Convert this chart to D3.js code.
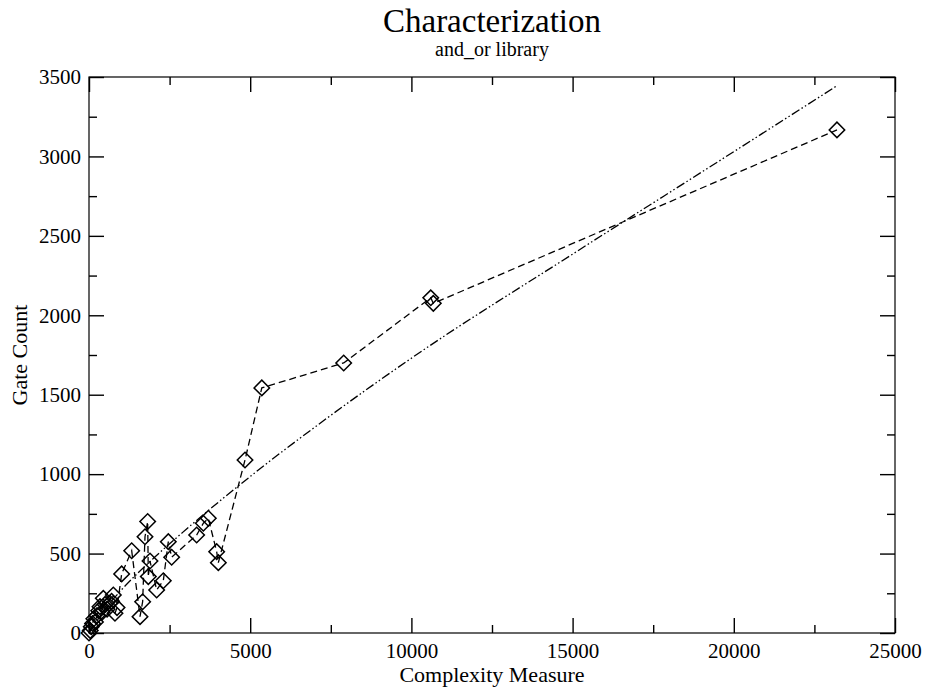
<!DOCTYPE html>
<html>
<head>
<meta charset="utf-8">
<script src="https://cdn.jsdelivr.net/npm/d3@7"></script>
<style>
  body { margin: 0; background: #fff; }
  svg { display: block; }
  svg text { font-family: "Liberation Serif", "Times New Roman", Times, "DejaVu Serif", serif; fill: #000; }
  .axis line { stroke: #000; }
  .axis text { font-size: 21px; }
</style>
</head>
<body>
<svg id="chart" width="927" height="687"></svg>
<script>
"use strict";

// ===== Data =====
const complexity = [0, 40, 70, 110, 150, 200, 250, 300, 341, 400, 444, 500, 560, 651, 700, 754, 806, 870,
  1013, 1324, 1582, 1664, 1737, 1820, 1840, 1892, 2099, 2305, 2460, 2564,
  3339, 3546, 3701, 3960, 4012, 4839, 5360, 7900, 10600, 10680, 23200];
const gateCount = [0, 15, 40, 60, 90, 70, 110, 140, 166, 130, 218, 180, 150, 187, 200, 239, 124, 160,
  372, 518, 103, 197, 606, 702, 355, 453, 271, 329, 575, 477,
  617, 691, 722, 512, 443, 1089, 1543, 1700, 2110, 2075, 3167];

// trend curve, points
const fitX = [0, 500, 1000, 2000, 3000, 5000, 7500, 10000, 15000, 20000, 23200];
const fitY = [0, 150, 270, 470, 650, 985, 1370, 1730, 2385, 3030, 3445];

const xTicks = [0, 5000, 10000, 15000, 20000, 25000];
const xMinor = [2500, 7500, 12500, 17500, 22500];
const yTicks = [0, 500, 1000, 1500, 2000, 2500, 3000, 3500];
const yMinor = [250, 750, 1250, 1750, 2250, 2750, 3250];

// ===== Layout =====
const plotL = 89, plotR = 895, plotT = 77, plotB = 633;
const svg = d3.select("#chart");

const x = d3.scaleLinear().domain([0, 25000]).range([plotL, plotR]);
const y = d3.scaleLinear().domain([0, 3500]).range([plotB, plotT]);

// frame
svg.append("rect")
  .attr("x", plotL).attr("y", plotT)
  .attr("width", plotR - plotL).attr("height", plotB - plotT)
  .attr("fill", "none").attr("stroke", "#000").attr("stroke-width", 1.2);

// ===== Axes (ticks inward on all four sides) =====
function addAxis(axis, tx, ty, labels) {
  const gAx = svg.append("g").attr("class", "axis")
    .attr("transform", `translate(${tx},${ty})`)
    .call(axis);
  gAx.attr("font-family", null).attr("font-size", null);
  gAx.select(".domain").remove();
  gAx.selectAll("line").attr("stroke-width", 1.4);
  if (!labels) gAx.selectAll("text").remove();
  return gAx;
}

const bottomAx = addAxis(d3.axisBottom(x).tickValues(xTicks).tickSize(-15).tickPadding(25).tickFormat(d3.format("d")), 0, plotB, true);
bottomAx.selectAll("text").attr("dy", "0");
addAxis(d3.axisBottom(x).tickValues(xMinor).tickSize(-8), 0, plotB, false);
addAxis(d3.axisTop(x).tickValues(xTicks).tickSize(-15), 0, plotT, false);
addAxis(d3.axisTop(x).tickValues(xMinor).tickSize(-8), 0, plotT, false);

const leftAx = addAxis(d3.axisLeft(y).tickValues(yTicks).tickSize(-15).tickFormat(d3.format("d")), plotL, 0, true);
leftAx.selectAll("text").attr("x", -8);
addAxis(d3.axisLeft(y).tickValues(yMinor).tickSize(-8), plotL, 0, false);
addAxis(d3.axisRight(y).tickValues(yTicks).tickSize(-15), plotR, 0, false);
addAxis(d3.axisRight(y).tickValues(yMinor).tickSize(-8), plotR, 0, false);

// ===== Trend curve =====
const fitPts = fitX.map((v, i) => [v, fitY[i]]);
svg.append("path")
  .datum(fitPts)
  .attr("fill", "none")
  .attr("stroke", "#000")
  .attr("stroke-width", 1.3)
  .attr("stroke-dasharray", "9,2.5,1.5,2.5,1.5,2.5")
  .attr("d", d3.line().x(d => x(d[0])).y(d => y(d[1])).curve(d3.curveMonotoneX));

// ===== Data line + diamonds =====
const pts = complexity.map((v, i) => [v, gateCount[i]]);
svg.append("path")
  .datum(pts)
  .attr("fill", "none")
  .attr("stroke", "#000")
  .attr("stroke-width", 1.3)
  .attr("stroke-dasharray", "7,4")
  .attr("d", d3.line().x(d => x(d[0])).y(d => y(d[1])));

const diamond = d3.symbol().type(d3.symbolSquare).size(120);
svg.append("g")
  .selectAll("path")
  .data(pts)
  .join("path")
  .attr("d", diamond)
  .attr("transform", d => `translate(${x(d[0])},${y(d[1])}) rotate(45)`)
  .attr("fill", "none")
  .attr("stroke", "#000")
  .attr("stroke-width", 1.5);

// ===== Titles =====
svg.append("text")
  .attr("x", (plotL + plotR) / 2).attr("y", 32)
  .attr("text-anchor", "middle")
  .attr("font-size", 33)
  .text("Characterization");

svg.append("text")
  .attr("x", (plotL + plotR) / 2).attr("y", 56)
  .attr("text-anchor", "middle")
  .attr("font-size", 20)
  .text("and_or library");

svg.append("text")
  .attr("x", (plotL + plotR) / 2).attr("y", 682)
  .attr("text-anchor", "middle")
  .attr("font-size", 22)
  .text("Complexity Measure");

svg.append("text")
  .attr("transform", `translate(27,${(plotT + plotB) / 2}) rotate(-90)`)
  .attr("text-anchor", "middle")
  .attr("font-size", 22)
  .text("Gate Count");
</script>
</body>
</html>
